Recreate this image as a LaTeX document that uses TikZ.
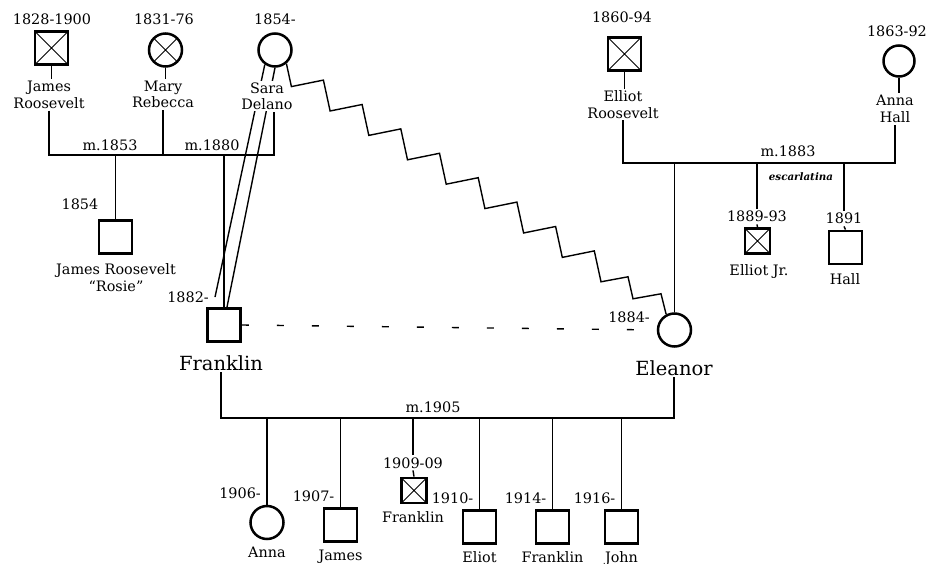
\documentclass[tikz,border=0pt]{standalone}
\usepackage{fontspec}
\setmainfont{DejaVu Serif}
\usetikzlibrary{calc}
\begin{document}
\begin{tikzpicture}[x=1pt,y=-1pt,line width=1.4pt,
 lbl/.style={font=\fontsize{14.4}{16.3}\selectfont,inner sep=1.5pt,align=center},
 big/.style={font=\fontsize{19.5}{22}\selectfont,inner sep=1.5pt},
 male/.style={draw,rectangle,line width=2.8pt,minimum size=33pt,inner sep=0pt},
 female/.style={draw,circle,line width=2.5pt,minimum size=33pt,inner sep=0pt},
 minor/.style={minimum size=25pt},
 dead/.style={path picture={\draw[line width=1pt] (path picture bounding box.north west)--(path picture bounding box.south east)
   (path picture bounding box.north east)--(path picture bounding box.south west);}}]
 \useasboundingbox (0,0) rectangle (927,564);
 \node[male,dead] (jr) at (51.5,48) {};\node[lbl,anchor=base] (jrdate) at (52,25) {1828-1900};
 \node[lbl] (jrname) at (49,95) {James\\Roosevelt};
 \node[female,dead] (mr) at (165.5,50) {};\node[lbl,anchor=base] (mrdate) at (164,25) {1831-76};
 \node[lbl] (mrname) at (163,94.5) {Mary\\Rebecca};
 \node[female] (sd) at (275,50) {};\node[lbl,anchor=base] (sddate) at (275,25) {1854-};
 \node[male] (fr) at (224,325) {};\node[lbl,anchor=base east] (frdate) at (211,302) {1882-};
 \node[big,anchor=base] (frname) at (221,370) {Franklin};
 \draw (sd.-125) -- ([shift={(-9,-10)}]fr.north);
 \draw (sd.south) -- ([xshift=3pt]fr.north);
 \node[lbl,fill=white] (sdname) at (267,96) {Sara\\Delano};
 \draw (jr.south) -- (jr.south |- jrname.north);\draw (mr.south) -- (mr.south |- mrname.north);
 \coordinate (m1) at (274,155);
 \draw (jrname.south) |- (m1) -- (sdname.south -| m1);
 \draw (mrname.south) -- (mrname.south |- m1);
 \node[lbl,anchor=base] (m1853) at (110,151) {m.1853};\node[lbl,anchor=base] (m1880) at (212,151) {m.1880};
 \node[male] (rosie) at (115.5,237) {};\node[lbl,anchor=base] (rosiedate) at (80,210) {1854};
 \node[lbl] (rosiename) at (116,277.5) {James Roosevelt\\“Rosie”};
 \draw (rosie.north) -- (rosie.north |- m1);\draw (fr.north) -- (fr.north |- m1);
 \node[male,dead] (er) at (624.5,54) {};\node[lbl,anchor=base] (erdate) at (622,23) {1860-94};
 \node[lbl] (ername) at (623,104.5) {Elliot\\Roosevelt};
 \node[female,minimum size=31pt] (ah) at (899,61) {};\node[lbl,anchor=base] (ahdate) at (897,37) {1863-92};
 \node[lbl] (ahname) at (895,109) {Anna\\Hall};
 \draw (er.south) -- (er.south |- ername.north);\draw (ah.south) -- (ah.south |- ahname.north);
 \coordinate (m3) at (788,163);
 \draw (ername.south) |- (m3) -| (ahname.south);
 \node[lbl,anchor=base] (m1883) at (788,157) {m.1883};
 \node[female] (el) at (674.5,330) {};\node[lbl,anchor=base east] (eldate) at (652,323) {1884-};
 \node[big,anchor=base] (elname) at (674,375) {Eleanor};
 \draw (el.north) -- (el.north |- m3);
 \node[male,minor,dead] (ejr) at (757.5,241) {};\node[lbl,anchor=base] (ejrdate) at (757,222) {1889-93};
 \node[lbl,anchor=base] (ejrname) at (759,276) {Elliot Jr.};
 \draw (ejrdate.north) -- (ejrdate.north |- m3);\draw (ejrdate.south) -- (ejr.north);
 \node[font=\fontsize{10.3}{12}\selectfont\bfseries\itshape,anchor=base] (scarlet) at (801,181) {escarlatina};
 \node[male] (hall) at (845.5,247.5) {};\node[lbl,anchor=base] (halldate) at (844,224) {1891};
 \node[lbl,anchor=base] (hallname) at (845,285) {Hall};
 \draw (halldate.north) -- (halldate.north |- m3);\draw (halldate.south) -- (hall.north);
 \draw[dash pattern=on 7pt off 28pt] (fr.east) -- (el.west);
 \draw (sd.-50) -- ++(5,23) \foreach \i in {1,...,8}{ -- ++(32,-6.5) -- ++(6.7,30.9)}
   -- ++(27,-5) -- ++(5,22) -- ++(28,-5) -- (el.118);
 \coordinate (m5) at (440,418);
 \draw (frname.south) |- (m5) -| (elname.south);
 \node[lbl,anchor=base] (m1905) at (433,412) {m.1905};
 \foreach \k/\x/\y/\d/\n/\s in {anna/267/522.5/1906-/Anna/female,james/340.5/525/1907-/James/male,
   eliot/479.5/527/1910-/Eliot/male,frjr/552.5/527/1914-/Franklin/male,john/621.5/527/1916-/John/male}{
  \node[\s] (\k) at (\x,\y) {};
  \node[lbl,anchor=base east] (d\k) at (\x-4,\y-24) {\d};
  \node[lbl,anchor=base] (n\k) at (\x,\y+35) {\n};
  \draw (\k.north) -- (\k.north |- m5);}
 \node[male,minor,dead] (f09) at (414,490.5) {};\node[lbl,anchor=base] (f09date) at (413,468) {1909-09};
 \node[lbl,anchor=base] (f09name) at (413,522) {Franklin};
 \draw (f09date.north) -- (f09date.north |- m5);\draw (f09date.south) -- (f09.north);
\end{tikzpicture}
\end{document}
